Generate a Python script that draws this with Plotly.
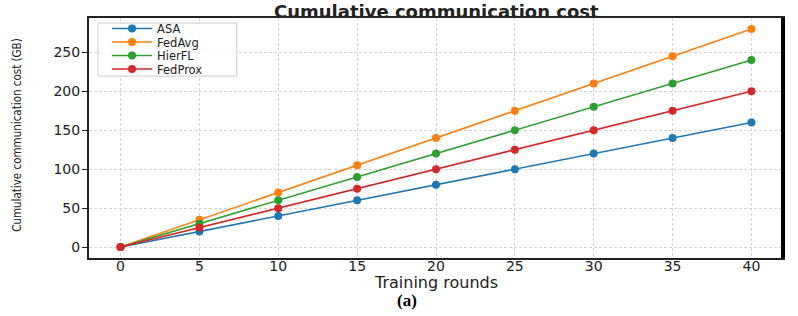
import plotly.graph_objects as go

rounds = [0, 5, 10, 15, 20, 25, 30, 35, 40]
asa = [0, 20, 40, 60, 80, 100, 120, 140, 160]
fedavg = [0, 35, 70, 105, 140, 175, 210, 245, 280]
hierfl = [0, 30, 60, 90, 120, 150, 180, 210, 240]
fedprox = [0, 25, 50, 75, 100, 125, 150, 175, 200]

series = [
    ("ASA", asa, "#1f77b4"),
    ("FedAvg", fedavg, "#ff7f0e"),
    ("HierFL", hierfl, "#2ca02c"),
    ("FedProx", fedprox, "#d62728"),
]

x_ticks = [0, 5, 10, 15, 20, 25, 30, 35, 40]
y_ticks = [0, 50, 100, 150, 200, 250]

# legend row positions (paper coords) — one small legend per series
legend_rows = [0.956, 0.900, 0.844, 0.7875]

fig = go.Figure()
legend_layouts = {}
for i, (name, vals, col) in enumerate(series):
    lname = "legend" if i == 0 else f"legend{i + 1}"
    fig.add_trace(go.Scatter(
        x=rounds, y=vals, name=name, mode="lines+markers",
        line=dict(color=col, width=1.6),
        marker=dict(color=col, size=8, symbol="circle"),
        legend=lname,
    ))
    legend_layouts[lname] = dict(
        x=0.026, y=legend_rows[i], xanchor="left", yanchor="middle",
        bgcolor="rgba(0,0,0,0)", borderwidth=0,
        font=dict(family="DejaVu Sans", size=11.5, color="#222222"),
        itemwidth=40,
    )

axis_font = dict(family="DejaVu Sans", size=14, color="#222222")
grid = dict(showgrid=True, gridcolor="#d4d4d4", griddash="3px,2px", gridwidth=1)

fig.update_layout(
    width=798, height=316,
    margin=dict(l=89, r=15, t=18, b=58),
    paper_bgcolor="white", plot_bgcolor="white",
    showlegend=True,
    xaxis=dict(range=[-2, 42], tickvals=x_ticks, ticktext=[str(v) for v in x_ticks],
               zeroline=False, showline=True, linecolor="#222222", linewidth=2,
               mirror=True, ticks="",
               ticklabelstandoff=-6,
               tickfont=axis_font, automargin=False, **grid),
    yaxis=dict(range=[-14, 294], tickvals=y_ticks, ticktext=[str(v) for v in y_ticks],
               zeroline=False, showline=True, linecolor="#222222", linewidth=2,
               mirror=True, ticks="outside", ticklen=5, tickcolor="#222222",
               ticklabelstandoff=-1,
               tickfont=axis_font, automargin=False, **grid),
    **legend_layouts,
)

# legend frame
fig.add_shape(type="rect", xref="paper", yref="paper",
              x0=0.013, x1=0.213, y0=0.758, y1=0.979,
              line=dict(color="#cccccc", width=1), fillcolor="rgba(255,255,255,0.85)",
              layer="above")

# thicker right spine as in the reference
fig.add_shape(type="line", xref="paper", yref="paper", x0=1, x1=1, y0=0, y1=1,
              line=dict(color="black", width=4))

# title
fig.add_annotation(text="<b>Cumulative communication cost</b>", xref="paper", yref="paper",
                   x=0.5, y=1.029, xanchor="center", yanchor="middle", showarrow=False,
                   font=dict(family="DejaVu Sans", size=18, color="#222222"))
# x-axis title
fig.add_annotation(text="Training rounds", xref="paper", yref="paper",
                   x=0.5, y=-0.1, xanchor="center", yanchor="middle", showarrow=False,
                   font=dict(family="DejaVu Sans", size=16, color="#222222"))
# y-axis title
fig.add_annotation(text="Cumulative communication cost (GB)", xref="paper", yref="paper",
                   x=-0.104, y=0.5125, xanchor="center", yanchor="middle", showarrow=False,
                   textangle=-90,
                   font=dict(family="DejaVu Sans Condensed, Liberation Sans Narrow, DejaVu Sans",
                             size=11.5, color="#222222"))
# panel label
fig.add_annotation(text="<b>(a)</b>", xref="paper", yref="paper",
                   x=0.458, y=-0.178, xanchor="center", yanchor="middle", showarrow=False,
                   font=dict(family="Liberation Serif", size=17, color="black"))

# remove the browser's default 8px body margin so the figure sits at the page origin
fig.write_html("out.html", config={"displayModeBar": False},
               post_script="document.body.style.margin='0px';")
